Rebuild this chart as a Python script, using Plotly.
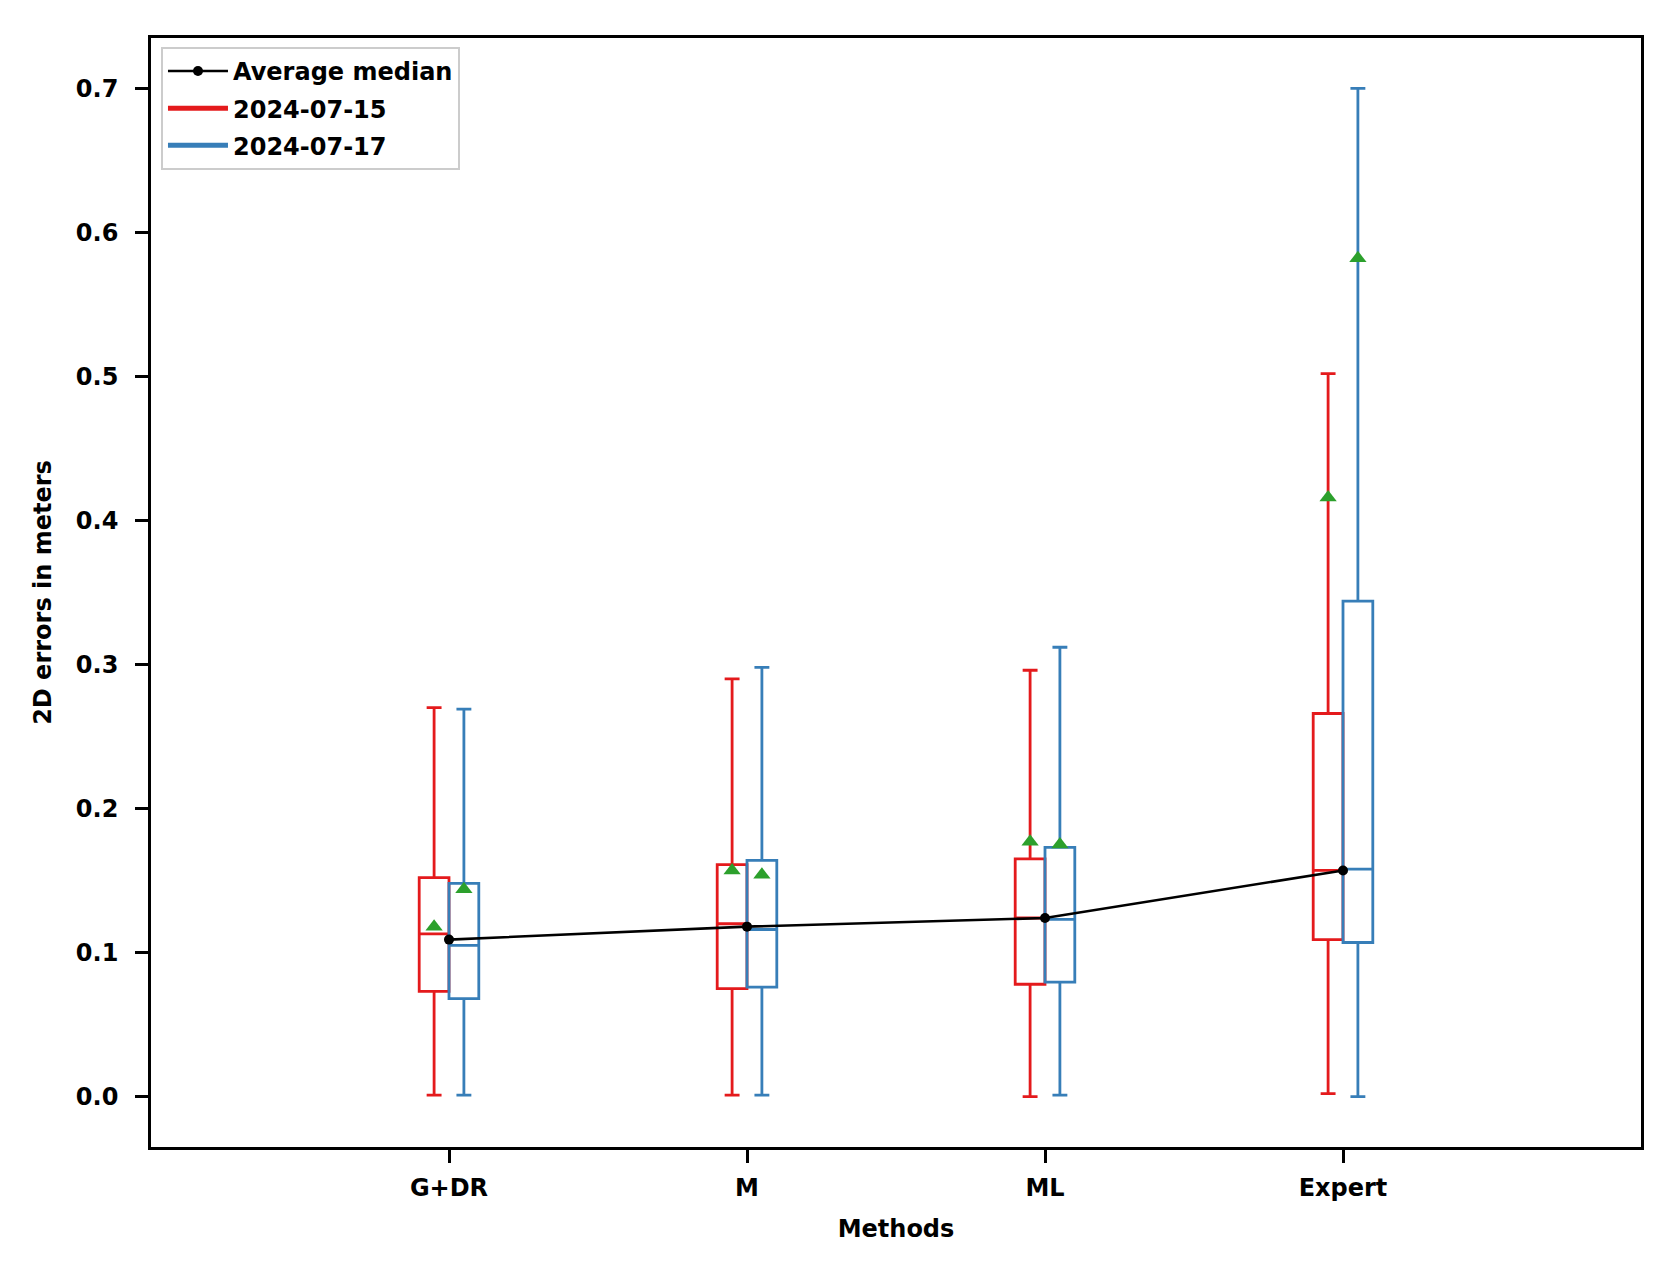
import plotly.graph_objects as go

methods = ["G+DR", "M", "ML", "Expert"]
dates = ["2024-07-15", "2024-07-17"]

# 2024-07-15 statistics per method
q1_a = [0.073, 0.075, 0.078, 0.109]
med_a = [0.113, 0.120, 0.124, 0.157]
q3_a = [0.152, 0.161, 0.165, 0.266]
lo_a = [0.001, 0.001, 0.000, 0.002]
hi_a = [0.270, 0.290, 0.296, 0.502]
mean_a = [0.118, 0.157, 0.177, 0.416]

# 2024-07-17 statistics per method
q1_b = [0.068, 0.076, 0.0795, 0.107]
med_b = [0.105, 0.116, 0.123, 0.158]
q3_b = [0.148, 0.164, 0.173, 0.344]
lo_b = [0.001, 0.001, 0.001, 0.000]
hi_b = [0.269, 0.298, 0.312, 0.700]
mean_b = [0.144, 0.154, 0.175, 0.582]

avg_median = [0.109, 0.118, 0.124, 0.157]

RED = "#e41a1c"
BLUE = "#377eb8"
GREEN = "#2ca02c"
OFFSET = 0.05
BOXW = 0.1
FONT = "DejaVu Sans"

idx = list(range(len(methods)))
pos_a = [i - OFFSET for i in idx]
pos_b = [i + OFFSET for i in idx]

fig = go.Figure()

# average median line
fig.add_trace(go.Scatter(
    x=idx, y=avg_median, mode="lines+markers", name="Average median",
    line=dict(color="black", width=2.6), marker=dict(color="black", size=10),
    legendgroup="g1", showlegend=True, hoverinfo="skip"))

for pos, q1, med, q3, lo, hi, color in [
        (pos_a, q1_a, med_a, q3_a, lo_a, hi_a, RED),
        (pos_b, q1_b, med_b, q3_b, lo_b, hi_b, BLUE)]:
    fig.add_trace(go.Box(
        x=pos, q1=q1, median=med, q3=q3, lowerfence=lo, upperfence=hi,
        width=BOXW, whiskerwidth=0.5, boxpoints=False,
        line=dict(color=color, width=2.8), fillcolor="rgba(0,0,0,0)",
        showlegend=False, hoverinfo="skip"))

for pos, mean in [(pos_a, mean_a), (pos_b, mean_b)]:
    fig.add_trace(go.Scatter(
        x=pos, y=mean, mode="markers",
        marker=dict(symbol="triangle-up", color=GREEN, size=15, line=dict(width=0)),
        showlegend=False, hoverinfo="skip"))

# legend handles for the two dates
for name, color, grp in [(dates[0], RED, "g2"), (dates[1], BLUE, "g3")]:
    fig.add_trace(go.Scatter(
        x=[None], y=[None], mode="lines", name=name,
        line=dict(color=color, width=5), legendgroup=grp, showlegend=True))

fig.update_layout(
    width=1663, height=1264,
    margin=dict(l=143, r=30, t=30, b=125),
    paper_bgcolor="white", plot_bgcolor="white",
    font=dict(family=FONT, size=24, color="black", weight="bold"),
    showlegend=True,
    legend=dict(x=0.0067, y=0.992, xanchor="left", yanchor="top",
                bgcolor="rgba(255,255,255,0.8)", bordercolor="#cccccc",
                borderwidth=2, tracegroupgap=3, itemwidth=60,
                font=dict(family=FONT, size=24, color="black", weight="bold")),
)

fig.update_xaxes(
    range=[-1, 4], tickmode="array", tickvals=idx, ticktext=methods,
    showgrid=False, zeroline=False, showline=True, mirror=True,
    linecolor="black", linewidth=2.7, ticks="outside", ticklen=13, tickwidth=2.5,
    tickcolor="black", ticklabelstandoff=4,
    title=dict(text="Methods", standoff=20,
               font=dict(family=FONT, size=24, color="black", weight="bold")))

fig.update_yaxes(
    range=[-0.035, 0.735], tickmode="array",
    tickvals=[0.0, 0.1, 0.2, 0.3, 0.4, 0.5, 0.6, 0.7],
    tickformat=".1f",
    showgrid=False, zeroline=False, showline=True, mirror=True,
    linecolor="black", linewidth=2.7, ticks="outside", ticklen=13, tickwidth=2.5,
    tickcolor="black", ticklabelstandoff=12,
    title=dict(text="2D errors in meters", standoff=18,
               font=dict(family=FONT, size=24, color="black", weight="bold")))

fig.write_html("out.html")
